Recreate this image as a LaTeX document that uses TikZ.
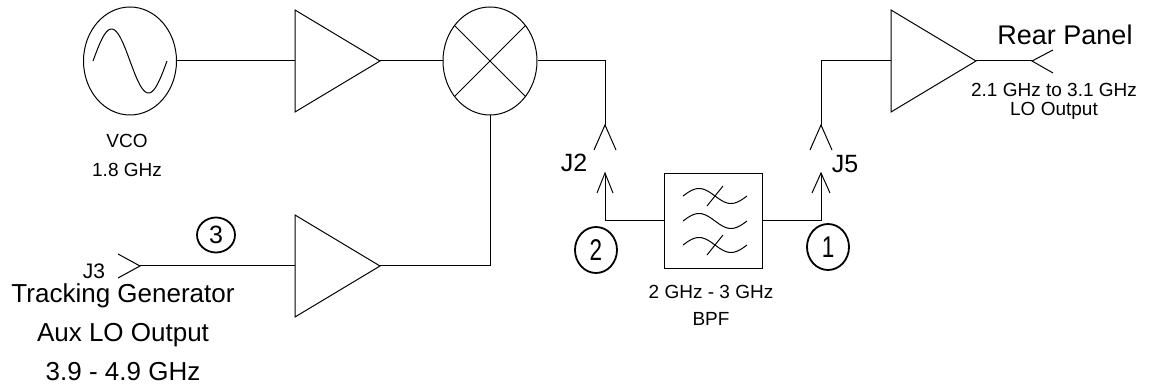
\documentclass[tikz,border=0pt]{standalone}
\usepackage{fontspec}
\setmainfont{Liberation Sans}
\usetikzlibrary{shapes.geometric}
\newcommand{\fsz}[2]{\fontsize{#1}{#2}\selectfont}
\begin{document}
\begin{tikzpicture}[x=1pt, y=-1pt, line width=1pt,
    blk/.style={draw, ellipse, inner sep=0pt, minimum width=93pt, minimum height=108pt},
    tag/.style={draw, ellipse, line width=1.8pt, inner sep=0pt, minimum width=42pt, minimum height=46pt, font=\fsz{30}{30}\addfontfeature{FakeStretch=0.75}},
    lbl/.style={align=center, inner sep=0pt}]
  \useasboundingbox (0,0) rectangle (1149,387);
  \node[blk] (vco) at (130,61) {};
  \draw[shift={(vco.center)}] plot[domain=-37:37, samples=60] (\x, {-32*sin((\x+37)/74*360)});
  \node[blk, minimum width=94pt] (mix) at (490,61) {};
  \draw (mix.45) -- (mix.225);
  \draw (mix.135) -- (mix.-45);
  \foreach \n/\x/\y in {ampa/295/61, ampb/295/266, ampc/891/61} {
    \draw (\x,\y-51) -- (\x+85,\y) -- (\x,\y+51) -- cycle;
    \coordinate (\n-in) at (\x,\y);
    \coordinate (\n-out) at (\x+85,\y);
  }
  \node[draw, inner sep=0pt, minimum width=98pt, minimum height=95pt] (bpf) at (713,221) {};
  \foreach \dy in {-25,0,24}
    \draw[shift={(bpf.center)}] plot[domain=0:64, samples=40] (\x-30, {\dy-7.5*sin(\x/64*360)});
  \draw[shift={(bpf.center)}] (-6,-15) -- (10,-35);
  \draw[shift={(bpf.center)}] (-6,34) -- (10,14);
  \coordinate (j2a) at (605,125);
  \coordinate (j2b) at (605,173);
  \coordinate (j5a) at (821,125);
  \coordinate (j5b) at (821,173);
  \coordinate (j3) at (140,266);
  \coordinate (rp) at (1032,61);
  \foreach \c/\w/\h in {j2a/11/25, j5a/11/25, j2b/8/20, j5b/9/20}
    \draw (\c) ++(-\w,\h) -- (\c) -- ++(\w,\h);
  \draw (j3) ++(-22,-12) -- (j3) -- ++(-22,12);
  \draw (rp) ++(21,-11) -- (rp) -- ++(21,12);
  \draw (vco.east) -- (ampa-in);
  \draw (ampa-out) -- (mix.west);
  \draw (mix.east) -| (j2a);
  \draw (j2b) |- (bpf.west);
  \draw (bpf.east) -| (j5b);
  \draw (j5a) |- (ampc-in);
  \draw (ampc-out) -- (rp);
  \draw (j3) -- (ampb-in);
  \draw (ampb-out) -| (mix.south);
  \node[tag, minimum width=38pt, minimum height=35pt, font=\fsz{25}{25}] (t3) at (216,235) {3};
  \node[tag] (t2) at (596,250) {2};
  \node[tag] (t1) at (828,247) {1};
  \node[lbl, font=\fsz{19}{29}] (vcolbl) at (127,155) {VCO\\1.8 GHz};
  \node[lbl, font=\fsz{27}{27}] (rplbl) at (1065,35) {Rear Panel};
  \node[lbl, font=\fsz{19}{19}] (lolbl) at (1054,101) {2.1 GHz to 3.1 GHz\\LO Output};
  \node[lbl, font=\fsz{25}{25}] (j2lbl) at (574,163) {J2};
  \node[lbl, font=\fsz{25}{25}] (j5lbl) at (845,164) {J5};
  \node[lbl, font=\fsz{21}{21}] (j3lbl) at (94,271) {J3};
  \node[lbl, font=\fsz{26}{39}] (tglbl) at (123,332) {Tracking Generator\\Aux LO Output\\3.9 - 4.9 GHz};
  \node[lbl, font=\fsz{19}{27}] (bpflbl) at (711,305) {2 GHz - 3 GHz\\BPF};
\end{tikzpicture}
\end{document}
